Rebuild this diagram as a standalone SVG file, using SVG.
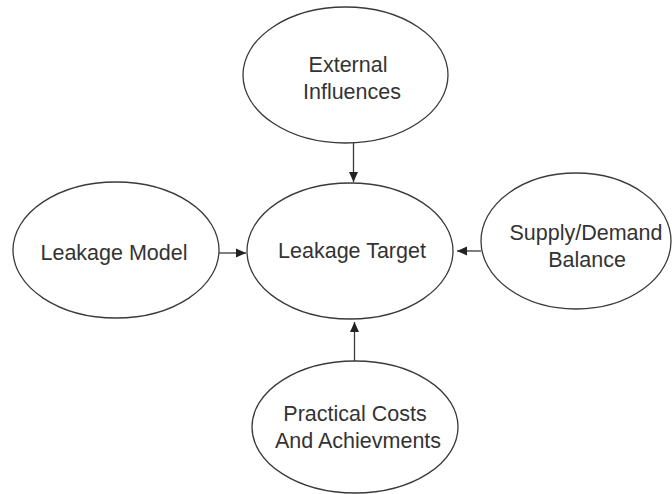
<svg xmlns="http://www.w3.org/2000/svg" width="672" height="494" viewBox="0 0 672 494">
  <defs>
    <style>
      .node ellipse { fill: #ffffff; stroke: #3a3a3a; stroke-width: 1.3; }
      .node text { font-family: "Liberation Sans", Arial, sans-serif; font-size: 21.5px; fill: #333333; text-anchor: middle; }
      .edges line { stroke: #3a3a3a; stroke-width: 1.3; marker-end: url(#arrow); }
    </style>
    <marker id="arrow" viewBox="0 0 10 10" refX="10" refY="5" markerWidth="10" markerHeight="10" markerUnits="userSpaceOnUse" orient="auto">
      <path d="M0,0.5 L10,5 L0,9.5 Z" fill="#222222"/>
    </marker>
  </defs>
  <rect width="672" height="494" fill="#ffffff"/>

  <g id="external-influences" class="node">
    <ellipse cx="345.5" cy="75" rx="102.5" ry="68"/>
    <text x="348" y="72">External</text>
    <text x="352" y="99">Influences</text>
  </g>

  <g id="leakage-model" class="node">
    <ellipse cx="116" cy="250" rx="103" ry="68"/>
    <text x="114" y="260">Leakage Model</text>
  </g>

  <g id="leakage-target" class="node">
    <ellipse cx="350" cy="251" rx="103" ry="68"/>
    <text x="352" y="258">Leakage Target</text>
  </g>

  <g id="supply-demand-balance" class="node">
    <ellipse cx="576" cy="241" rx="95" ry="68"/>
    <text x="586" y="240">Supply/Demand</text>
    <text x="587" y="267">Balance</text>
  </g>

  <g id="practical-costs" class="node">
    <ellipse cx="355" cy="427" rx="103" ry="66"/>
    <text x="355" y="421">Practical Costs</text>
    <text x="358" y="448">And Achievments</text>
  </g>

  <g id="connectors" class="edges">
    <line x1="353.5" y1="143" x2="353.5" y2="182"/>
    <line x1="219" y1="253" x2="246" y2="253"/>
    <line x1="481" y1="251" x2="457" y2="251"/>
    <line x1="354.5" y1="361" x2="354.5" y2="322"/>
  </g>
</svg>
